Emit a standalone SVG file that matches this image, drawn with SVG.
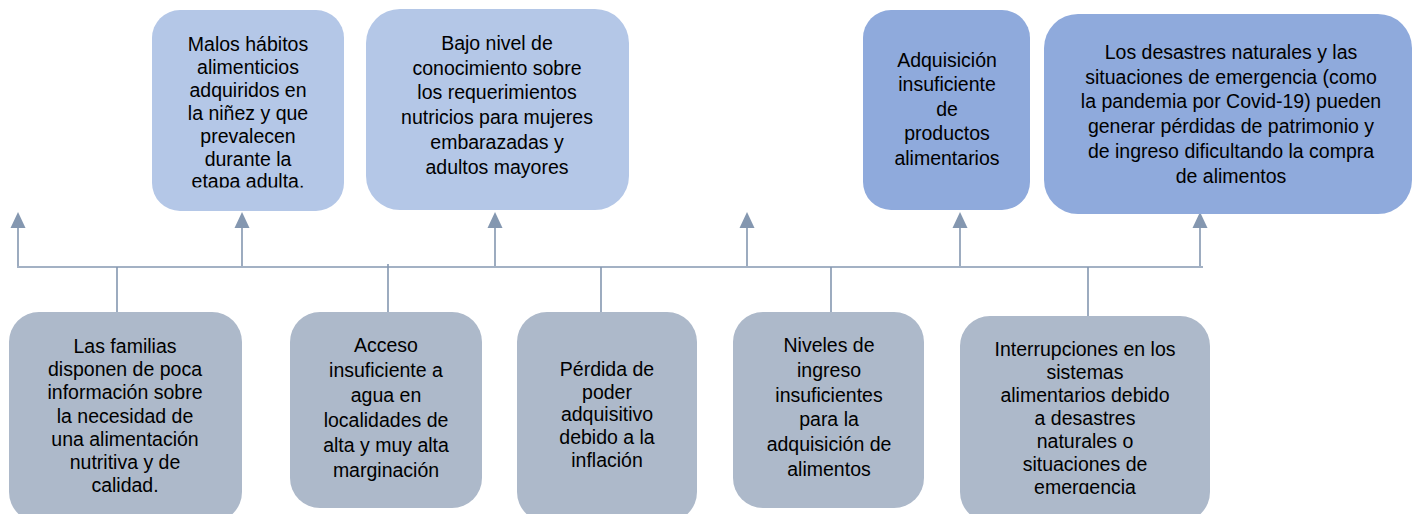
<svg xmlns="http://www.w3.org/2000/svg" width="1413" height="514" viewBox="0 0 1413 514">
<style>
.t{font-family:"Liberation Sans",Arial,sans-serif;font-size:19.5px;fill:#000;text-anchor:middle}
.light{fill:#B4C7E7}
.dark{fill:#8FAADC}
.gray{fill:#ADB9CA}
.ln{stroke:#8497B0;stroke-width:1.6;fill:none}
</style>
<defs>
<marker id="ah" markerUnits="userSpaceOnUse" markerWidth="16" markerHeight="16" viewBox="0 0 16 16" refX="8" refY="1" orient="auto-start-reverse">
<path d="M8 1 L15.5 16 L0.5 16 Z" fill="#8497B0" transform="rotate(0)"/>
</marker>
<clipPath id="c1"><rect x="152" y="10" width="192" height="177.5"/></clipPath>
<clipPath id="c2"><rect x="960" y="316" width="250" height="178"/></clipPath>
</defs>
<g id="connectors">
<line class="ln" x1="17" y1="267" x2="1203" y2="267"/>
<line class="ln" x1="18" y1="266" x2="18" y2="228"/>
<line class="ln" x1="242" y1="266" x2="242" y2="228"/>
<line class="ln" x1="495" y1="266" x2="495" y2="228"/>
<line class="ln" x1="747" y1="266" x2="747" y2="228"/>
<line class="ln" x1="960" y1="266" x2="960" y2="228"/>
<line class="ln" x1="1200" y1="266" x2="1200" y2="228"/>
<g fill="#8497B0">
<polygon points="18,212 25.5,228 10.5,228"/>
<polygon points="242,212 249.5,228 234.5,228"/>
<polygon points="495,212 502.5,228 487.5,228"/>
<polygon points="747,212 754.5,228 739.5,228"/>
<polygon points="960,212 967.5,228 952.5,228"/>
<polygon points="1200,212 1207.5,228 1192.5,228"/>
</g>
<line class="ln" x1="117" y1="267" x2="117" y2="312"/>
<line class="ln" x1="388" y1="264" x2="388" y2="312"/>
<line class="ln" x1="601" y1="267" x2="601" y2="312"/>
<line class="ln" x1="831" y1="267" x2="831" y2="316"/>
<line class="ln" x1="1088" y1="267" x2="1088" y2="316"/>
</g>
<g id="n1">
<rect class="light" x="152" y="10" width="192" height="201" rx="28"/>
<text class="t" clip-path="url(#c1)"><tspan x="248" y="51">Malos hábitos</tspan><tspan x="248" y="73.9">alimenticios</tspan><tspan x="248" y="96.8">adquiridos en</tspan><tspan x="248" y="119.7">la niñez y que</tspan><tspan x="248" y="142.6">prevalecen</tspan><tspan x="248" y="165.5">durante la</tspan><tspan x="248" y="188.4">etapa adulta.</tspan></text>
</g>
<g id="n2">
<rect class="light" x="366" y="9" width="263" height="201" rx="34"/>
<text class="t"><tspan x="497" y="50">Bajo nivel de</tspan><tspan x="497" y="74.7">conocimiento sobre</tspan><tspan x="497" y="99.4">los requerimientos</tspan><tspan x="497" y="124.1">nutricios para mujeres</tspan><tspan x="497" y="148.8">embarazadas y</tspan><tspan x="497" y="173.5">adultos mayores</tspan></text>
</g>
<g id="n3">
<rect class="dark" x="863" y="10" width="167" height="200" rx="28"/>
<text class="t"><tspan x="947" y="66.5">Adquisición</tspan><tspan x="947" y="91.1">insuficiente</tspan><tspan x="947" y="115.7">de</tspan><tspan x="947" y="140.3">productos</tspan><tspan x="947" y="164.9">alimentarios</tspan></text>
</g>
<g id="n4">
<rect class="dark" x="1044" y="14" width="368" height="200" rx="34"/>
<text class="t"><tspan x="1231" y="59">Los desastres naturales y las</tspan><tspan x="1231" y="83.7">situaciones de emergencia (como</tspan><tspan x="1231" y="108.4">la pandemia por Covid-19) pueden</tspan><tspan x="1231" y="133.1">generar pérdidas de patrimonio y</tspan><tspan x="1231" y="157.8">de ingreso dificultando la compra</tspan><tspan x="1231" y="182.5">de alimentos</tspan></text>
</g>
<g id="n5">
<rect class="gray" x="9" y="312" width="233" height="210" rx="30"/>
<text class="t"><tspan x="125" y="353.3">Las familias</tspan><tspan x="125" y="376.4">disponen de poca</tspan><tspan x="125" y="399.4">información sobre</tspan><tspan x="125" y="422.5">la necesidad de</tspan><tspan x="125" y="445.6">una alimentación</tspan><tspan x="125" y="468.6">nutritiva y de</tspan><tspan x="125" y="491.7">calidad.</tspan></text>
</g>
<g id="n6">
<rect class="gray" x="290" y="312" width="192" height="196" rx="30"/>
<text class="t"><tspan x="386" y="352.3">Acceso</tspan><tspan x="386" y="377.2">insuficiente a</tspan><tspan x="386" y="402.1">agua en</tspan><tspan x="386" y="427">localidades de</tspan><tspan x="386" y="451.9">alta y muy alta</tspan><tspan x="386" y="476.8">marginación</tspan></text>
</g>
<g id="n7">
<rect class="gray" x="517" y="312" width="180" height="210" rx="30"/>
<text class="t"><tspan x="607" y="376">Pérdida de</tspan><tspan x="607" y="398.7">poder</tspan><tspan x="607" y="421.4">adquisitivo</tspan><tspan x="607" y="444.1">debido a la</tspan><tspan x="607" y="466.8">inflación</tspan></text>
</g>
<g id="n8">
<rect class="gray" x="733" y="312" width="191" height="196" rx="30"/>
<text class="t"><tspan x="829" y="352.3">Niveles de</tspan><tspan x="829" y="377">ingreso</tspan><tspan x="829" y="401.7">insuficientes</tspan><tspan x="829" y="426.4">para la</tspan><tspan x="829" y="451.1">adquisición de</tspan><tspan x="829" y="475.8">alimentos</tspan></text>
</g>
<g id="n9">
<rect class="gray" x="960" y="316" width="250" height="206" rx="30"/>
<text class="t" clip-path="url(#c2)"><tspan x="1085" y="356">Interrupciones en los</tspan><tspan x="1085" y="379">sistemas</tspan><tspan x="1085" y="402.1">alimentarios debido</tspan><tspan x="1085" y="425.1">a desastres</tspan><tspan x="1085" y="448.2">naturales o</tspan><tspan x="1085" y="471.2">situaciones de</tspan><tspan x="1085" y="494.3">emergencia</tspan></text>
</g>
</svg>
